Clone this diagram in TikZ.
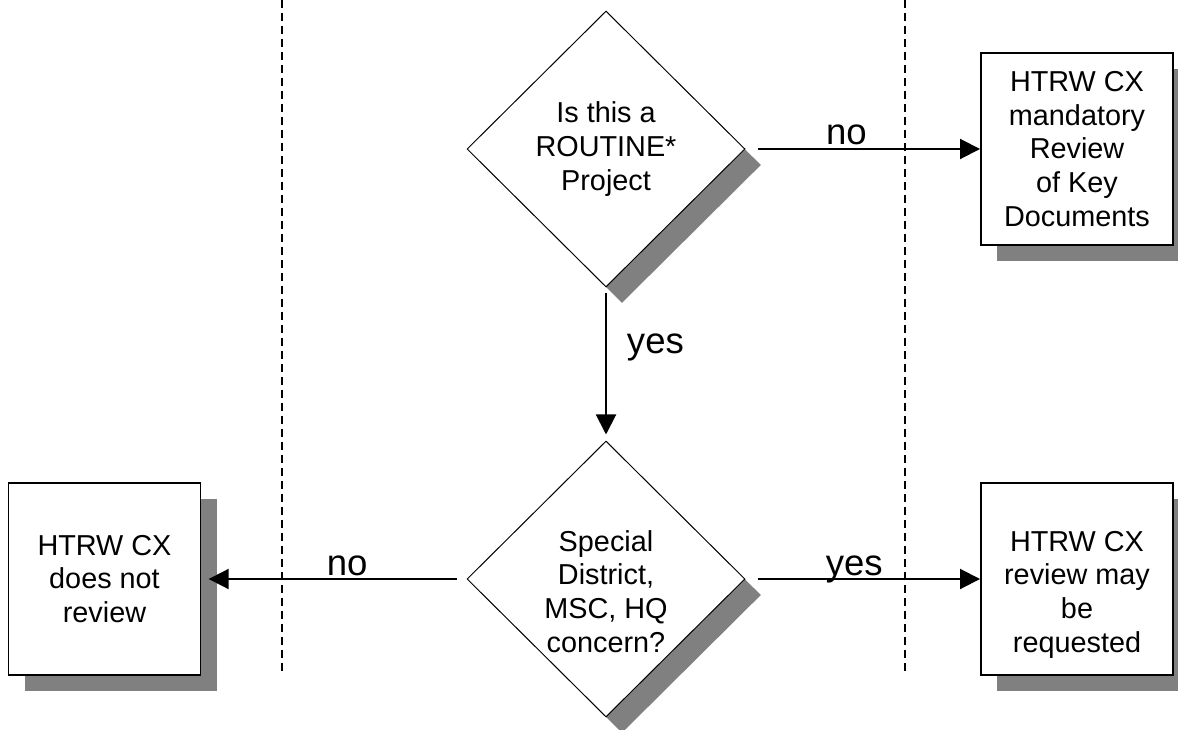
\documentclass[tikz,border=0pt]{standalone}
\usepackage{fontspec}
\setmainfont{Liberation Sans}
\usetikzlibrary{shapes.geometric,arrows.meta,shadows}
\newcommand{\boxfont}{\fontsize{20.5}{24}\selectfont}
\newcommand{\answerfont}{\fontsize{26}{31}\selectfont}
\newcommand{\lowtext}[1]{\raisebox{-0.4cm}[\height][\depth]{\begin{tabular}{@{}c@{}}#1\end{tabular}}}
\tikzset{
  castshadow/.style={drop shadow={opacity=1, fill=black!50, draw=none, shadow xshift=0.4cm, shadow yshift=-0.4cm}},
  decision/.style={diamond, aspect=1, draw, line width=0.7pt, fill=white, inner sep=0pt,
    minimum width=6.95cm, minimum height=6.9cm, align=center, font=\boxfont, castshadow},
  outcome/.style={rectangle, draw, line width=1.4pt, fill=white,
    minimum width=4.8cm, minimum height=4.8cm, align=center, font=\boxfont, castshadow},
  flow/.style={-{Triangle[length=0.5cm,width=0.5cm]}, line width=1.4pt},
  answer/.style={font=\answerfont, inner sep=0pt, anchor=base, yshift=0.1cm},
  lane/.style={dash pattern=on 0.2cm off 0.125cm, line width=1pt}
}
\begin{document}
\begin{tikzpicture}
  \useasboundingbox (0,0) rectangle (29.45,-18.25);
  % lane separators
  \draw[lane] (7.05,0) -- (7.05,-16.825);
  \draw[lane] (22.625,0) -- (22.625,-16.825);
  \draw
    (15.15,-3.725) node[decision] (routine) {Is this a\\ROUTINE*\\Project}
    (15.15,-14.475) node[decision] (concern) {\lowtext{Special\\District,\\MSC, HQ\\concern?}}
    (26.925,-3.725) node[outcome] (mandatory) {HTRW CX\\mandatory\\Review\\of Key\\Documents}
    (2.6125,-14.475) node[outcome] (noreview) {HTRW CX\\does not\\review}
    (26.925,-14.475) node[outcome] (mayreview) {\lowtext{HTRW CX\\review may\\be\\requested}};
  \begin{scope}[flow]
    \draw[shorten <=0.3cm] (routine) to node[answer, pos=0.43] (no1) {no} (mandatory);
    \draw[shorten <=0.125cm, shorten >=0.15cm] (routine) to node[answer, pos=0.42, anchor=west, xshift=0.5cm] (yes1) {yes} (concern);
    \draw[shorten <=0.25cm, shorten >=0.18cm] (concern) to node[answer, pos=0.45] (no2) {no} (noreview);
    \draw[shorten <=0.3cm] (concern) to node[answer, pos=0.464] (yes2) {yes} (mayreview);
  \end{scope}
\end{tikzpicture}
\end{document}
